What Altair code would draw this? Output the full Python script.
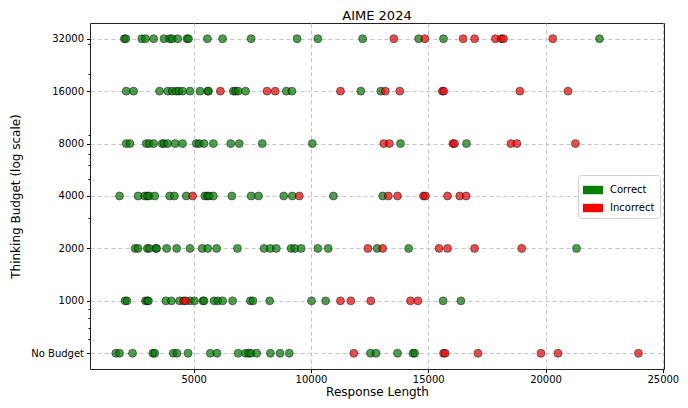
import altair as alt
import pandas as pd

budgets = [32000, 16000, 8000, 4000, 2000, 1000, 500]
y_ticks = [500, 1000, 2000, 4000, 8000, 16000, 32000]
y_minor = [600, 700, 800, 900, 3000, 5000, 6000, 7000, 9000, 20000, 30000]
x_ticks = [5000, 10000, 15000, 20000, 25000]
status_labels = ["Correct", "Incorrect"]
status_colors = ["#008000", "#ff0000"]

correct_32000 = [2045, 2109, 2788, 2946, 3294, 3736, 3973, 4084, 4321, 4716, 4779, 5585, 6232, 7449, 9408, 10293, 12205, 14591, 15649, 22301]
incorrect_32000 = [13532, 14859, 16487, 16976, 17861, 18114, 18209, 20310]

correct_16000 = [2124, 2440, 3546, 3894, 4084, 4250, 4368, 4526, 4842, 5269, 5600, 5632, 6691, 6785, 6896, 7212, 8950, 9187, 12126, 12979]
incorrect_16000 = [6138, 8128, 8476, 11257, 13169, 13785, 15600, 15660, 18904, 20958]

correct_8000 = [2124, 2282, 2978, 3104, 3294, 3657, 3736, 3894, 4210, 4526, 5111, 5237, 5442, 5837, 6580, 6943, 7923, 10056, 13816, 16629]
incorrect_8000 = [13105, 13342, 16050, 16120, 18525, 18778, 21274]

correct_4000 = [1840, 2630, 2914, 3025, 3104, 3341, 3973, 4178, 4684, 5474, 5585, 5664, 5837, 6627, 7449, 7765, 8839, 9203, 10957, 13058]
incorrect_4000 = [4953, 9503, 13295, 13690, 14796, 14875, 15823, 16344, 16613]

correct_2000 = [2504, 2630, 3025, 3104, 3388, 3420, 3847, 4273, 4842, 5363, 5600, 5980, 6864, 8002, 8271, 8523, 9155, 9313, 9582, 10293, 10735, 12821, 14164, 21321]
incorrect_2000 = [12426, 13058, 15460, 15823, 16976, 18983]

correct_1000 = [2077, 2156, 2946, 3025, 3072, 3815, 4052, 4400, 4842, 5032, 5395, 5442, 5869, 6027, 6232, 6659, 7417, 7528, 8239, 10024, 10625, 15633, 16392]
incorrect_1000 = [4573, 4652, 11257, 11699, 12552, 14243, 14559]

correct_none = [1682, 1840, 2393, 3262, 3341, 4131, 4289, 4763, 5711, 5995, 6896, 7212, 7338, 7449, 7686, 8271, 8681, 9076, 12537, 12774, 13690, 14350, 14420]
incorrect_none = [11826, 15650, 15720, 17119, 19805, 20531, 23960]

correct_lists = [correct_32000, correct_16000, correct_8000, correct_4000, correct_2000, correct_1000, correct_none]
incorrect_lists = [incorrect_32000, incorrect_16000, incorrect_8000, incorrect_4000, incorrect_2000, incorrect_1000, incorrect_none]

rows = []
for b, lst in zip(budgets, correct_lists):
    for v in lst:
        rows.append({"length": v, "budget": b, "status": "Correct"})
for b, lst in zip(budgets, incorrect_lists):
    for v in lst:
        rows.append({"length": v, "budget": b, "status": "Incorrect"})
df = pd.DataFrame(rows)

FONT = "DejaVu Sans"
x_scale = alt.Scale(domain=[580, 25050], nice=False, zero=False)
y_scale = alt.Scale(type="log", domain=[406, 39400], nice=False)

x_axis = alt.Axis(values=x_ticks, format="d", title="Response Length",
                  grid=True, gridDash=[4, 3], gridColor="#c4c4c4",
                  domain=False, tickColor="black", tickSize=3.5,
                  labelFont=FONT, labelFontSize=10, labelColor="black",
                  titleFont=FONT, titleFontSize=12, titleFontWeight="normal",
                  titleColor="black", labelPadding=2, titlePadding=2)

points = alt.Chart(df).mark_circle(
    size=62, opacity=0.72, stroke="black", strokeWidth=0.8, strokeOpacity=1
).encode(
    x=alt.X("length:Q", scale=x_scale, axis=x_axis),
    y=alt.Y("budget:Q", scale=y_scale,
            axis=alt.Axis(values=y_ticks,
                          labelExpr="datum.value == 500 ? 'No Budget' : format(datum.value, 'd')",
                          title="Thinking Budget (log scale)",
                          grid=True, gridDash=[4, 3], gridColor="#c4c4c4",
                          domain=False, tickColor="black", tickSize=3.5,
                          labelFont=FONT, labelFontSize=10, labelColor="black",
                          titleFont=FONT, titleFontSize=12, titleFontWeight="normal",
                          titleColor="black", labelPadding=3, titlePadding=8)),
    color=alt.Color("status:N",
                    scale=alt.Scale(domain=status_labels, range=status_colors),
                    legend=alt.Legend(title=None, orient="none", legendX=488, legendY=152,
                                      symbolType="M-1,-0.42L1,-0.42L1,0.42L-1,0.42Z",
                                      symbolSize=400, symbolOpacity=1, symbolStrokeWidth=0,
                                      labelFont=FONT, labelFontSize=10, labelColor="black",
                                      fillColor="white", strokeColor="#d0d0d0",
                                      cornerRadius=3, padding=5, rowPadding=3,
                                      labelOffset=7)),
)

minor = alt.Chart(df).mark_circle(opacity=0).encode(
    x=alt.X("length:Q", scale=x_scale, axis=x_axis),
    y=alt.Y("budget:Q", scale=y_scale,
            axis=alt.Axis(values=y_minor, labels=False, title=None, grid=False,
                          domain=False, tickSize=2, tickColor="black", orient="left")),
)

chart = alt.layer(points, minor).resolve_axis(y="independent").properties(
    width=574, height=346,
    title=alt.TitleParams("AIME 2024", font=FONT, fontSize=13, fontWeight="normal",
                          color="black", offset=0),
    padding={"left": 82, "top": 15, "right": 16, "bottom": 31},
    autosize=alt.AutoSizeParams(type="none"),
).configure_view(stroke="#222222", strokeWidth=1)

chart.save("out.html", embed_options={"renderer": "svg", "actions": False})
